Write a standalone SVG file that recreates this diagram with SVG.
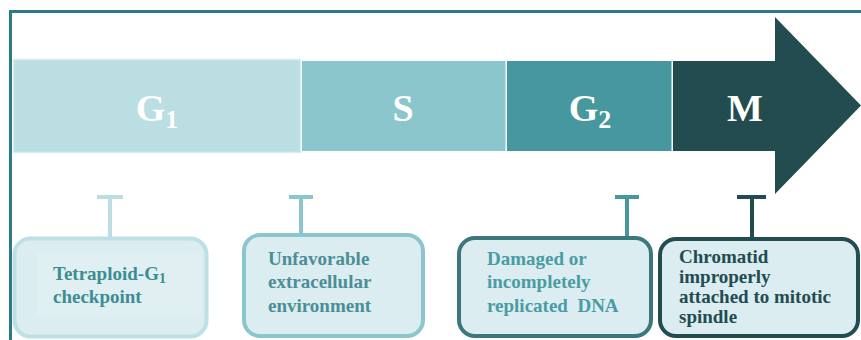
<svg xmlns="http://www.w3.org/2000/svg" width="861" height="340" viewBox="0 0 861 340">
<style>
.ph{font-family:"Liberation Serif","Times New Roman",serif;font-weight:bold;font-size:38px;fill:#ffffff;text-anchor:middle}
.sub{font-size:26px}
.bt{font-family:"Liberation Serif","Times New Roman",serif;font-weight:bold;font-size:19px}
.box{fill:#dbedf0;stroke-width:4}
.tb{stroke-width:4;fill:none}
</style>
<rect width="861" height="340" fill="#ffffff"/>
<g id="frame" stroke="#2b7a87" stroke-width="3" fill="none">
<line x1="9" y1="11.5" x2="861" y2="11.5"/>
<line x1="10.5" y1="10" x2="10.5" y2="340"/>
</g>
<g id="phase-G1">
<rect x="13.5" y="59.5" width="287" height="93" fill="#bbdee2" stroke="#d7edf0" stroke-width="1.5"/>
<text class="ph" x="157" y="121">G<tspan class="sub" dy="7">1</tspan></text>
</g>
<g id="phase-S">
<rect x="302" y="61" width="203.5" height="90" fill="#8bc6cd"/>
<text class="ph" x="403" y="121">S</text>
</g>
<g id="phase-G2">
<rect x="507" y="61" width="164.5" height="90" fill="#47979e"/>
<text class="ph" x="590" y="121">G<tspan class="sub" dy="7">2</tspan></text>
</g>
<g id="phase-M">
<path d="M673,61 H775 V17 L861,105.5 L775,194 V151 H673 Z" fill="#234c50"/>
<text class="ph" x="745" y="121">M</text>
</g>
<g id="connectors">
<path class="tb" stroke="#bcdee2" d="M97,197 H123 M110,197 V237"/>
<path class="tb" stroke="#8cc6cd" d="M289,197 H313 M301,197 V233"/>
<path class="tb" stroke="#47979e" d="M615,197 H639 M627,197 V236"/>
<path class="tb" stroke="#234c50" d="M737,197 H766 M752,197 V237"/>
</g>
<g id="box-tetraploid">
<rect class="box" x="14.5" y="238.5" width="192" height="98" rx="16" stroke="#bde0e4" stroke-width="3"/>
<rect x="37" y="253" width="165" height="64" fill="#e0f0f2"/>
<text class="bt" fill="#3e8c93" x="53" y="280">Tetraploid-G<tspan font-size="14" dy="3">1</tspan></text>
<text class="bt" fill="#3e8c93" x="53" y="303">checkpoint</text>
</g>
<g id="box-unfavorable">
<rect class="box" x="244" y="235" width="179" height="101" rx="16" stroke="#8cc6cd"/>
<text class="bt" fill="#4b8e96" x="268" y="265">Unfavorable</text>
<text class="bt" fill="#4b8e96" x="268" y="288">extracellular</text>
<text class="bt" fill="#4b8e96" x="268" y="312">environment</text>
</g>
<g id="box-damaged">
<rect class="box" x="459" y="238" width="192" height="98" rx="16" stroke="#3b777d"/>
<text class="bt" fill="#4a9ca4" x="487" y="265">Damaged or</text>
<text class="bt" fill="#4a9ca4" x="487" y="288">incompletely</text>
<text class="bt" fill="#4a9ca4" x="487" y="312" xml:space="preserve">replicated  DNA</text>
</g>
<g id="box-chromatid">
<rect class="box" x="660" y="239" width="198" height="97" rx="16" stroke="#234c50"/>
<text class="bt" fill="#234c52" x="679" y="263">Chromatid</text>
<text class="bt" fill="#234c52" x="679" y="283">improperly</text>
<text class="bt" fill="#234c52" x="679" y="303">attached to mitotic</text>
<text class="bt" fill="#234c52" x="679" y="323">spindle</text>
</g>
</svg>
